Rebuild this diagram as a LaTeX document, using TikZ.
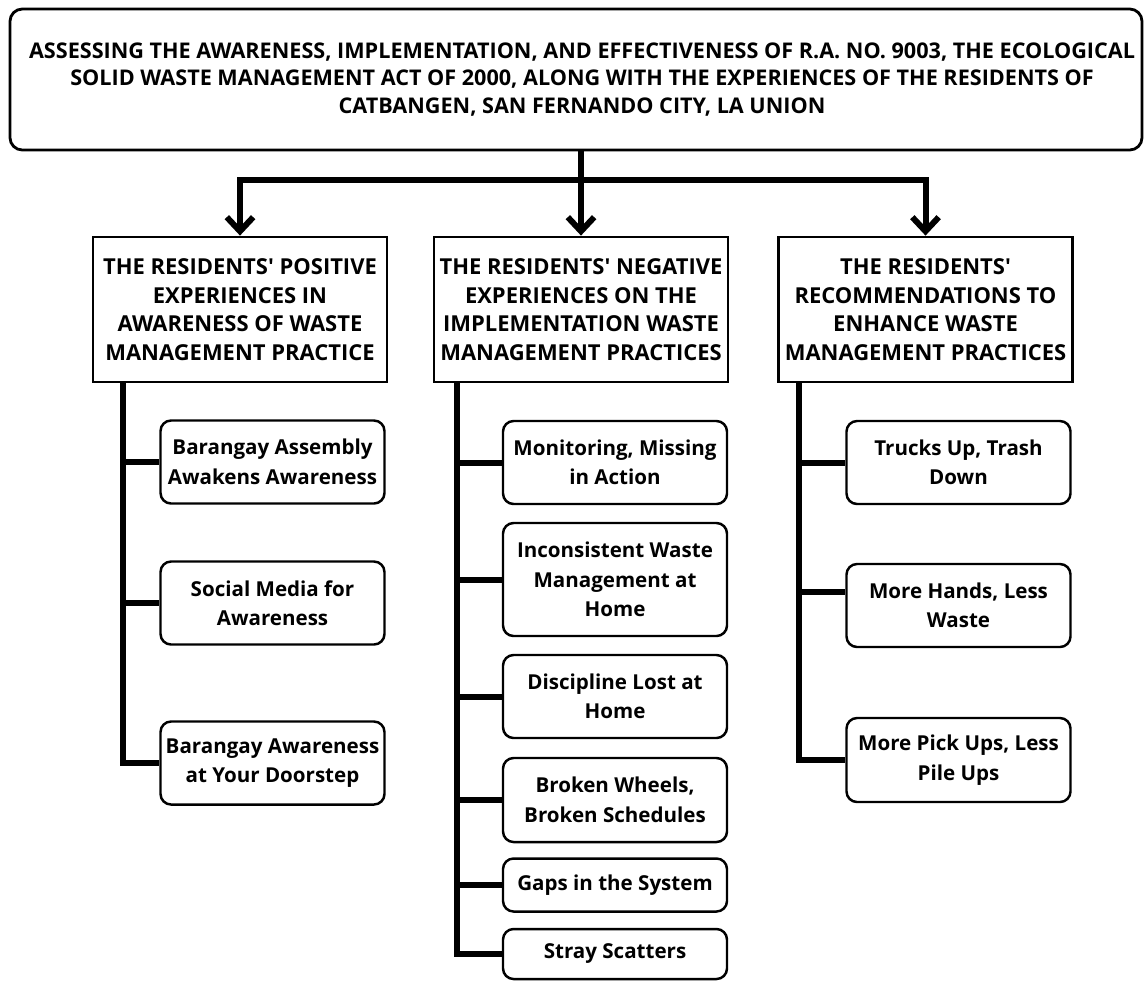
\documentclass[tikz,border=0pt]{standalone}
\usepackage{fontspec}
\setmainfont{Open Sans}
\usetikzlibrary{
    arrows.meta,
    calc,
    positioning
}
\tikzset{ttlb/.style={draw=black, line width=1.6pt, rounded corners=7pt, align=center, inner sep=0pt,
                      minimum width=22.64cm, minimum height=2.82cm, font=\bfseries\fontsize{12.3}{15.6}\selectfont}}
\tikzset{catb/.style={draw=black, line width=1.6pt, align=center, inner sep=0pt,
                      minimum width=5.88cm, minimum height=2.9cm, font=\bfseries\fontsize{12.5}{16.3}\selectfont}}
\tikzset{subb/.style={draw=black, line width=1.4pt, rounded corners=6pt, align=center, inner sep=0pt,
                      minimum width=4.48cm, minimum height=1.66cm, font=\bfseries\fontsize{11.7}{16.8}\selectfont}}
\tikzset{lnk/.style={line width=3.4pt}}
\tikzset{arr/.style={lnk, -{Straight Barb[length=8pt, width=15pt]}}}
\newcommand{\apos}{\textquotesingle}

\begin{document}
\begin{tikzpicture}
                        \useasboundingbox (0, 0) rectangle (22.9, -19.62);
                        \node[ttlb] (ttl) at (11.52, -1.59) {\hspace*{0.24cm}ASSESSING THE AWARENESS, IMPLEMENTATION, AND EFFECTIVENESS OF R.A. NO. 9003, THE ECOLOGICAL\\\hspace*{0.24cm}SOLID WASTE MANAGEMENT ACT OF 2000, ALONG WITH THE EXPERIENCES OF THE RESIDENTS OF\\\hspace*{0.24cm}CATBANGEN, SAN FERNANDO CITY, LA UNION};
                        \node[catb] (pos) at (4.80, -6.19) {THE RESIDENTS\apos{} POSITIVE\\EXPERIENCES IN\\AWARENESS OF WASTE\\MANAGEMENT PRACTICE};
                        \node[catb] (neg) at (11.62, -6.19) {THE RESIDENTS\apos{} NEGATIVE\\EXPERIENCES ON THE\\IMPLEMENTATION WASTE\\MANAGEMENT PRACTICES};
                        \node[catb] (rec) at (18.51, -6.19) {THE RESIDENTS\apos\\RECOMMENDATIONS TO\\ENHANCE WASTE\\MANAGEMENT PRACTICES};
                        \coordinate (bus) at (11.62, -3.6);
                        \draw[lnk] (bus |- ttl.south) -- (bus);
                        \draw[arr] (bus) -| (pos.north);
                        \draw[arr] (bus) -| (rec.north);
                        \draw[arr] (bus) -- (neg.north);
                        % positive experiences
                        \begin{scope}
                            \node[subb] (c1) at (5.45, -9.24) {Barangay Assembly\\Awakens Awareness};
                            \node[subb] (c2) at (5.45, -12.06) {Social Media for\\Awareness};
                            \node[subb] (c3) at (5.45, -15.26) {Barangay Awareness\\at Your Doorstep};
                            \coordinate (posT) at ([xshift=0.62cm]pos.south west);
                            \draw[lnk] (posT) |- (c3.west);
                            \foreach \s in {c1, c2}
                                \draw[lnk] (posT |- \s.west) -- (\s.west);
                        \end{scope}
                        % negative experiences
                        \begin{scope}
                            \node[subb] (d1) at (12.3, -9.25) {Monitoring, Missing\\in Action};
                            \node[subb, minimum height=2.26cm] (d2) at (12.3, -11.59) {Inconsistent Waste\\Management at\\Home};
                            \node[subb] (d3) at (12.3, -13.93) {Discipline Lost at\\Home};
                            \node[subb, minimum height=1.68cm] (d4) at (12.3, -16.0) {Broken Wheels,\\Broken Schedules};
                            \node[subb, minimum height=1.06cm] (d5) at (12.3, -17.7) {Gaps in the System};
                            \node[subb, minimum height=1.0cm] (d6) at (12.3, -19.08) {Stray Scatters};
                            \coordinate (negT) at ([xshift=0.48cm]neg.south west);
                            \draw[lnk] (negT) |- (d6.west);
                            \foreach \s in {d1, d2, d3, d4, d5}
                                \draw[lnk] (negT |- \s.west) -- (\s.west);
                        \end{scope}
                        % recommendations
                        \begin{scope}
                            \node[subb] (e1) at (19.17, -9.25) {Trucks Up, Trash\\Down};
                            \node[subb] (e2) at (19.17, -12.11) {More Hands, Less\\Waste};
                            \node[subb, minimum height=1.68cm] (e3) at (19.17, -15.2) {More Pick Ups, Less\\Pile Ups};
                            \coordinate (recT) at ([xshift=0.43cm]rec.south west);
                            \coordinate (e2b) at ([yshift=0.28cm]e2.west);
                            \draw[lnk] (recT) |- (e3.west);
                            \draw[lnk] (recT |- e1.west) -- (e1.west);
                            \draw[lnk] (recT |- e2b) -- (e2b);
                        \end{scope}
                    \end{tikzpicture}
\end{document}
